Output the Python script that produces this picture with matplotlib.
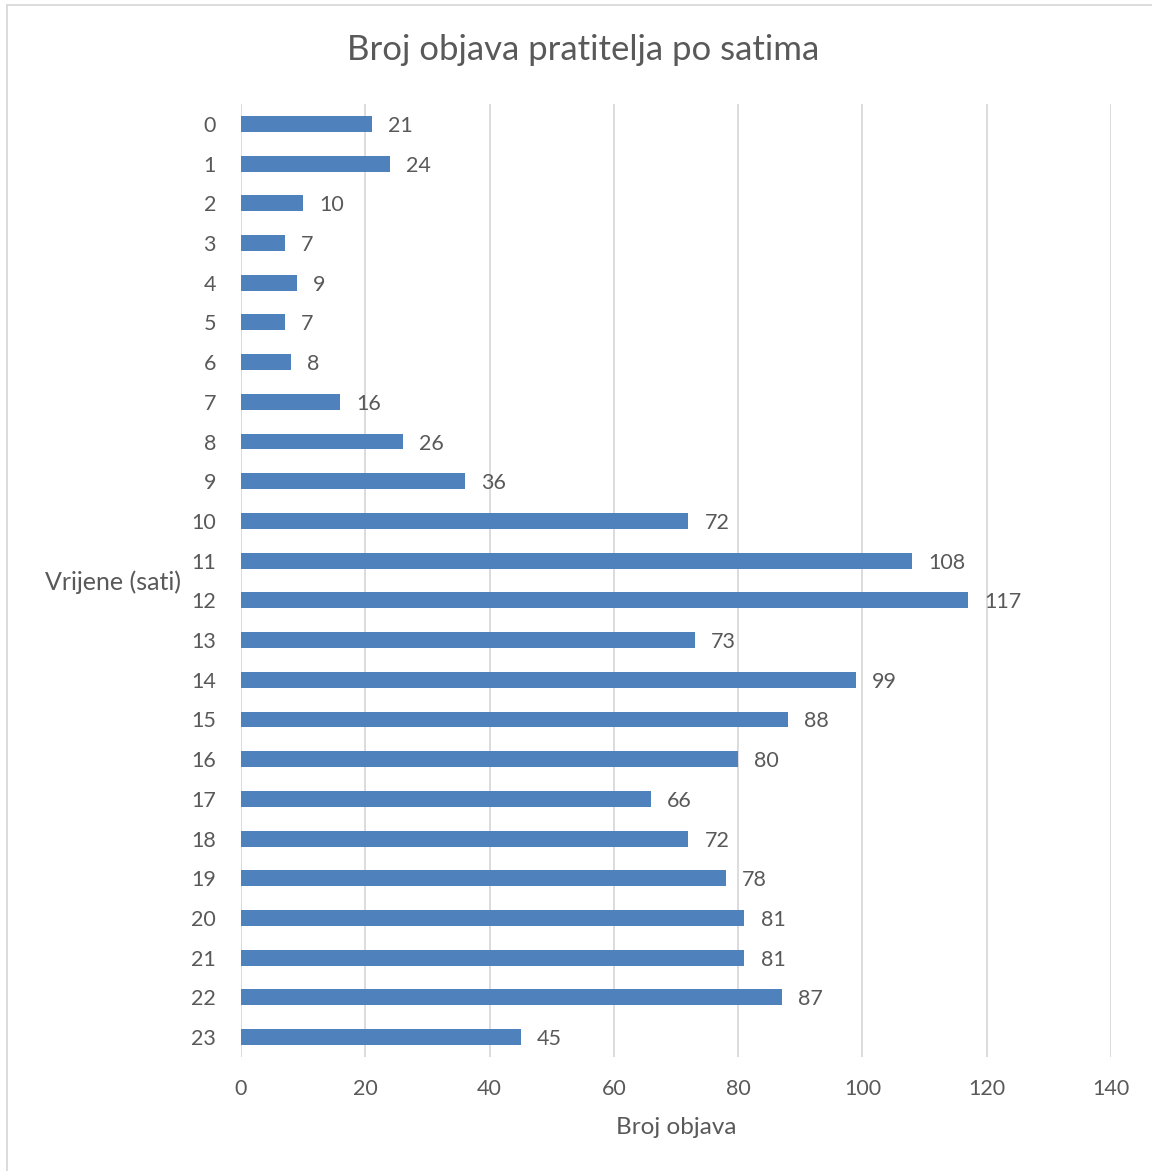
import numpy as np
import matplotlib.pyplot as plt
from matplotlib.lines import Line2D

hours = list(range(24))
posts = [21, 24, 10, 7, 9, 7, 8, 16, 26, 36, 72, 108, 117, 73, 99, 88, 80, 66, 72, 78, 81, 81, 87, 45]
xticks = [0, 20, 40, 60, 80, 100, 120, 140]

plt.rcParams['font.family'] = ['Lato', 'DejaVu Sans']
text_col = '#595959'

fig = plt.figure(figsize=(11.52, 11.71), dpi=100)
ax = fig.add_axes([241 / 1152, 1 - 1057 / 1171, 870 / 1152, 953 / 1171])

ax.barh(hours, posts, height=0.4, color='#4F81BD', zorder=3)
for h, v in zip(hours, posts):
    ax.text(v + 2.6, h, str(v), va='center_baseline', ha='left', fontsize=15.5, color=text_col)

ax.set_xlim(0, 140)
ax.set_ylim(23.5, -0.5)
ax.set_xticks(xticks)
ax.set_yticks(hours)
ax.set_yticklabels([str(h) for h in hours])
ax.tick_params(axis='both', length=0, labelsize=15.5, colors=text_col)
ax.tick_params(axis='x', pad=16)
ax.tick_params(axis='y', pad=18)
ax.grid(axis='x', color='#D9D9D9', linewidth=1.3, zorder=0)
for s in ax.spines.values():
    s.set_visible(False)

fig.text(583 / 1152, 1 - 50 / 1171, 'Broj objava pratitelja po satima', ha='center', va='center',
         fontsize=25, color=text_col)
fig.text(676 / 1152, 1 - 1128 / 1171, 'Broj objava', ha='center', va='center', fontsize=17.5, color=text_col)
fig.text(45 / 1152, 1 - 582 / 1171, 'Vrijene (sati)', ha='left', va='center', fontsize=18, color=text_col)

# chart border (top and left edges visible)
fig.add_artist(Line2D([7 / 1152, 1], [1 - 5 / 1171, 1 - 5 / 1171], color='#D9D9D9', linewidth=1.3))
fig.add_artist(Line2D([7 / 1152, 7 / 1152], [0, 1 - 5 / 1171], color='#D9D9D9', linewidth=1.3))

fig.savefig('out.png', dpi=100)
